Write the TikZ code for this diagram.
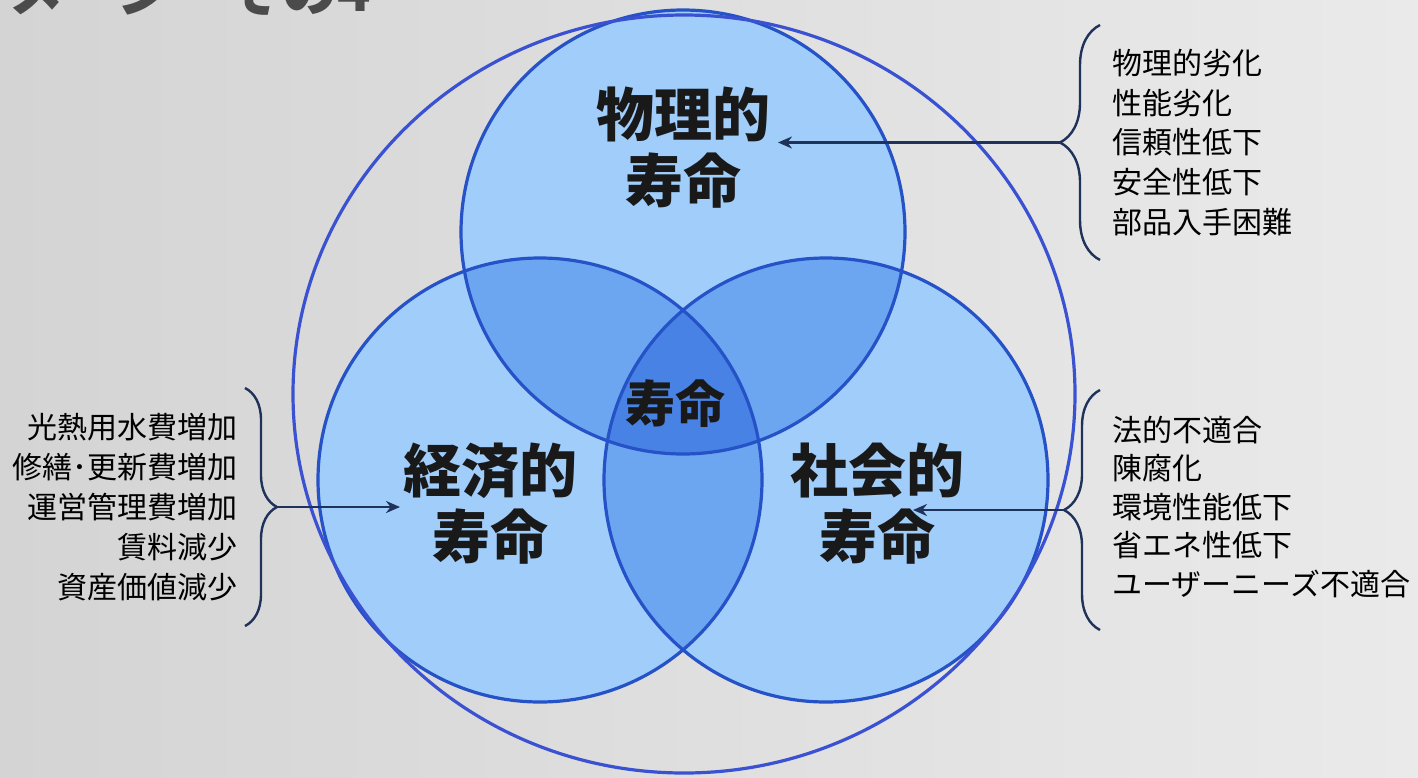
\documentclass[tikz,border=0pt]{standalone}
\usepackage{fontspec}
\setmainfont{Liberation Sans}
\newfontfamily\jp{Noto Sans CJK JP}
\usetikzlibrary{arrows.meta,decorations.pathreplacing}
\definecolor{bgL}{RGB}{212,212,212}
\definecolor{bgR}{RGB}{234,234,234}
\definecolor{c1}{RGB}{160,205,250}
\definecolor{c2}{RGB}{108,166,240}
\definecolor{c3}{RGB}{72,130,228}
\definecolor{ring}{RGB}{38,82,200}
\definecolor{outerc}{RGB}{58,82,210}
\definecolor{navy}{RGB}{30,50,90}
\definecolor{ttl}{RGB}{75,75,75}
\tikzset{
 big/.style={font=\jp\bfseries\fontsize{29pt}{33pt}\selectfont, align=center, text=black!90, inner sep=0pt},
 mid/.style={font=\jp\bfseries\fontsize{25pt}{28pt}\selectfont, text=black!90, inner sep=0pt},
 lst/.style={font=\jp\fontsize{15pt}{20pt}\selectfont, inner sep=0pt, text=black},
 brc/.style={draw=navy, line width=1.2pt, decorate, decoration={brace, amplitude=#1}},
 arr/.style={draw=navy, line width=1.2pt, -{Stealth[length=7pt,width=6pt]}},
 ringline/.style={draw=ring, line width=1.6pt},
 outerline/.style={draw=outerc, line width=1.6pt},
 title/.style={font=\jp\bfseries\fontsize{27.5pt}{30pt}\selectfont, text=ttl, inner sep=0pt}
}
\begin{document}
\begin{tikzpicture}[x=0.5pt,y=-0.5pt]
\useasboundingbox (0,0) rectangle (1418,777);
\shade[left color=bgL,right color=bgR] (0,0) rectangle (1418,777);
% title (cut off at the top)
\begin{scope}
\clip (0,0) rectangle (1418,777);
\node[title, anchor=base west] (ttl) at (-47,11) {イメージ　その4};
\end{scope}
% circles
\coordinate (cT) at (683,232);
\coordinate (cL) at (540,480);
\coordinate (cR) at (826,480);
\def\R{111pt}
\fill[c1] (cT) circle[radius=\R] (cL) circle[radius=\R] (cR) circle[radius=\R];
\begin{scope}
\clip (cT) circle[radius=\R];
\fill[c2] (cL) circle[radius=\R] (cR) circle[radius=\R];
\end{scope}
\begin{scope}
\clip (cL) circle[radius=\R];
\fill[c2] (cR) circle[radius=\R];
\end{scope}
\begin{scope}
\clip (cT) circle[radius=\R];
\clip (cL) circle[radius=\R];
\fill[c3] (cR) circle[radius=\R];
\end{scope}
\draw[ringline] (cT) circle[radius=\R] (cL) circle[radius=\R] (cR) circle[radius=\R];
\coordinate (cO) at (684,394);
\draw[outerline] (cO) ellipse[x radius=195.5pt, y radius=189.5pt];
% labels
\node[big] (lblT) at (683,148) {物理的\\寿命};
\node[big] (lblL) at (490,504) {経済的\\寿命};
\node[big] (lblR) at (877,504) {社会的\\寿命};
\node[mid] (lblC) at (675,404) {寿命};
% top-right list
\node[lst, anchor=west] (t1) at (1112,63) {物理的劣化};
\node[lst, anchor=west] (t2) at (1112,103) {性能劣化};
\node[lst, anchor=west] (t3) at (1112,142) {信頼性低下};
\node[lst, anchor=west] (t4) at (1112,182) {安全性低下};
\node[lst, anchor=west] (t5) at (1112,222) {部品入手困難};
% bottom-right list
\node[lst, anchor=west] (r1) at (1112,430) {法的不適合};
\node[lst, anchor=west] (r2) at (1112,468) {陳腐化};
\node[lst, anchor=west] (r3) at (1112,507) {環境性能低下};
\node[lst, anchor=west] (r4) at (1112,545) {省エネ性低下};
\node[lst, anchor=west] (r5) at (1112,584) {ユーザーニーズ不適合};
% left list
\node[lst, anchor=east] (l1) at (238,427) {光熱用水費増加};
\node[lst, anchor=east] (l2) at (238,467) {修繕･更新費増加};
\node[lst, anchor=east] (l3) at (238,507) {運営管理費増加};
\node[lst, anchor=east] (l4) at (238,547) {賃料減少};
\node[lst, anchor=east] (l5) at (238,587) {資産価値減少};
% braces
\draw[brc=20pt] (1100,260) -- (1100,25);
\draw[brc=18pt] (1100,630) -- (1100,390);
\draw[brc=16pt] (245,388) -- (245,626);
\coordinate (tipT) at (1060,142.5);
\coordinate (tipR) at (1064,510);
\coordinate (tipL) at (277,507);
\coordinate (hT) at (778,142.5);
\coordinate (hR) at (913,510);
\coordinate (hL) at (400,507);
\draw[arr] (tipT) -- (hT);
\draw[arr] (tipR) -- (hR);
\draw[arr] (tipL) -- (hL);
\end{tikzpicture}
\end{document}
